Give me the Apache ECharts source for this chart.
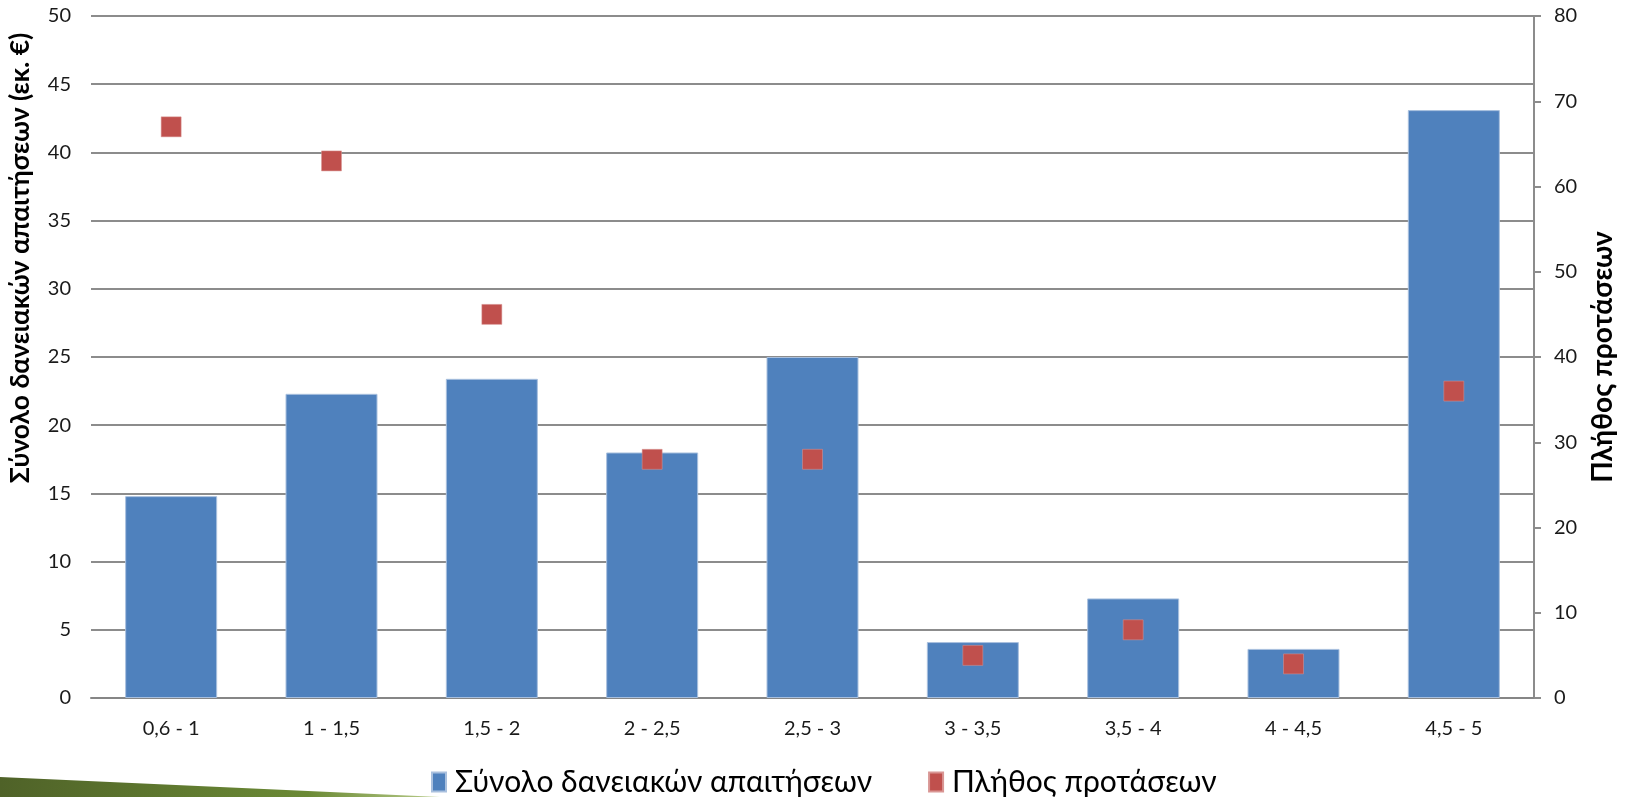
<!DOCTYPE html>
<html>
<head>
<meta charset="utf-8">
<script src="https://cdn.jsdelivr.net/npm/echarts@6/dist/echarts.min.js"></script>
<style>
html,body{margin:0;padding:0;background:#fff;}
#chart{width:1626px;height:797px;}
</style>
</head>
<body>
<div id="chart"></div>
<script>
const categories = ['0,6 - 1','1 - 1,5','1,5 - 2','2 - 2,5','2,5 - 3','3 - 3,5','3,5 - 4','4 - 4,5','4,5 - 5'];
const loanTotals = [14.8, 22.3, 23.4, 18.0, 25.0, 4.1, 7.3, 3.6, 43.1];
const proposalCounts = [67, 63, 45, 28, 28, 5, 8, 4, 36];
const leftTicks = {min: 0, max: 50, interval: 5};
const rightTicks = {min: 0, max: 80, interval: 10};
const seriesNames = ['Σύνολο δανειακών απαιτήσεων', 'Πλήθος προτάσεων'];
const leftTitle = 'Σύνολο δανειακών απαιτήσεων (εκ. €)';
const rightTitle = 'Πλήθος προτάσεων';

const chart = echarts.init(document.getElementById('chart'), null, {renderer: 'canvas'});
const font = 'Lato, "Open Sans", sans-serif';
chart.setOption({
  backgroundColor: '#ffffff',
  animation: false,
  grid: {left: 91, right: 92, top: 16, bottom: 99, containLabel: false},
  legend: {
    left: 431, top: 767, padding: 0,
    icon: 'rect', itemWidth: 14, itemHeight: 19, itemGap: 56,
    textStyle: {fontFamily: font, fontSize: 30, color: '#000', padding: [0,0,0,4]},
    data: seriesNames
  },
  xAxis: {
    type: 'category', data: categories,
    axisLine: {show: true, lineStyle: {color: '#868686', width: 2}},
    axisTick: {show: false},
    axisLabel: {fontFamily: font, fontSize: 20, color: '#1a1a1a', margin: 21}
  },
  yAxis: [
    {
      type: 'value', min: leftTicks.min, max: leftTicks.max, interval: leftTicks.interval,
      axisLine: {show: false}, axisTick: {show: false},
      axisLabel: {fontFamily: font, fontSize: 20, color: '#1a1a1a', margin: 20},
      splitLine: {show: true, lineStyle: {color: '#8c8c8c', width: 2}}
    },
    {
      type: 'value', min: rightTicks.min, max: rightTicks.max, interval: rightTicks.interval,
      position: 'right',
      axisLine: {show: true, lineStyle: {color: '#8c8c8c', width: 2}},
      axisTick: {show: true, length: 7, lineStyle: {color: '#8c8c8c', width: 2}},
      axisLabel: {fontFamily: font, fontSize: 20, color: '#1a1a1a', margin: 20},
      splitLine: {show: false}
    }
  ],
  series: [
    {
      name: seriesNames[0], type: 'bar', yAxisIndex: 0, data: loanTotals,
      barWidth: 92,
      itemStyle: {color: '#4f81bd', borderColor: '#a9c0de', borderWidth: 1}
    },
    {
      name: seriesNames[1], type: 'scatter', yAxisIndex: 1, data: proposalCounts,
      symbol: 'rect', symbolSize: 20,
      itemStyle: {color: '#c0504d', borderColor: '#d99694', borderWidth: 0.5, opacity: 1}
    }
  ],
  graphic: [
    {
      type: 'polygon', z: -1,
      shape: {points: [[0,777],[440,797],[0,797]]},
      style: {fill: new echarts.graphic.LinearGradient(0,0,1,0,[
        {offset: 0, color: '#4f6228'}, {offset: 0.7, color: '#6b8a35'}, {offset: 1, color: '#b9cc8a'}
      ])}
    },
    {
      type: 'text', x: 20, y: 258, rotation: Math.PI/2,
      style: {text: leftTitle, font: 'bold 26.5px ' + font, fill: '#000', align: 'center', verticalAlign: 'middle'}
    },
    {
      type: 'text', x: 1603, y: 357, rotation: Math.PI/2,
      style: {text: rightTitle, font: 'bold 28px ' + font, fill: '#000', align: 'center', verticalAlign: 'middle'}
    }
  ]
});
</script>
</body>
</html>
